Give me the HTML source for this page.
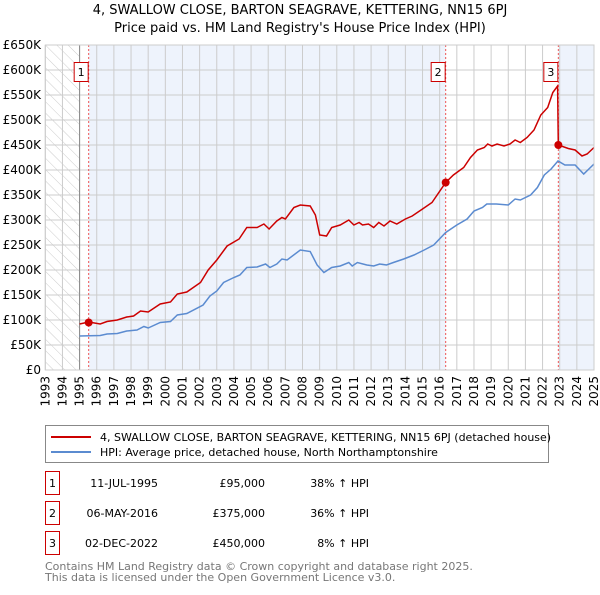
<!DOCTYPE html>
<html><head><meta charset="utf-8"><style>
body{margin:0;background:#fff;font-family:"Liberation Sans","DejaVu Sans",sans-serif;}
svg text{font-family:"DejaVu Sans","Liberation Sans",sans-serif;}
</style></head><body>
<svg id="c" width="600" height="590" viewBox="0 0 600 590">
<defs><pattern id="hatch" width="8" height="8" patternUnits="userSpaceOnUse" patternTransform="rotate(-45)"><line x1="0" y1="0" x2="0" y2="8" stroke="#ccc" stroke-width="1"/></pattern></defs>
<text x="300" y="14" text-anchor="middle" font-size="13" fill="#000">4, SWALLOW CLOSE, BARTON SEAGRAVE, KETTERING, NN15 6PJ</text>
<text x="300" y="32" text-anchor="middle" font-size="13" fill="#000">Price paid vs. HM Land Registry's House Price Index (HPI)</text>
<g id="plot"></g>
<g>
<rect x="45.5" y="425.5" width="503" height="37" fill="#fff" stroke="#888"/>
<line x1="51" y1="437" x2="91" y2="437" stroke="#cc0000" stroke-width="2"/>
<text x="100" y="441" font-size="11">4, SWALLOW CLOSE, BARTON SEAGRAVE, KETTERING, NN15 6PJ (detached house)</text>
<line x1="51" y1="452" x2="91" y2="452" stroke="#5b8bd0" stroke-width="2"/>
<text x="100" y="456" font-size="11">HPI: Average price, detached house, North Northamptonshire</text>
</g>
<g id="tbl" font-size="11"></g>
<text x="45" y="570" font-size="11" fill="#777">Contains HM Land Registry data © Crown copyright and database right 2025.</text>
<text x="45" y="581" font-size="11" fill="#777">This data is licensed under the Open Government Licence v3.0.</text>
</svg>
<script>
const yTicks=[0,50000,100000,150000,200000,250000,300000,350000,400000,450000,500000,550000,600000,650000];
const yTickLabels=["£0","£50K","£100K","£150K","£200K","£250K","£300K","£350K","£400K","£450K","£500K","£550K","£600K","£650K"];
const xYears=[1993,1994,1995,1996,1997,1998,1999,2000,2001,2002,2003,2004,2005,2006,2007,2008,2009,2010,2011,2012,2013,2014,2015,2016,2017,2018,2019,2020,2021,2022,2023,2024,2025];
const hpiDates=[1995.0,1996.2,1996.6,1997.2,1997.75,1998.35,1998.75,1999.0,1999.7,2000.3,2000.7,2001.25,2002.2,2002.6,2003.0,2003.4,2004.0,2004.35,2004.75,2005.35,2005.85,2006.1,2006.5,2006.8,2007.1,2007.87,2008.45,2008.85,2009.25,2009.7,2010.2,2010.7,2010.9,2011.2,2011.75,2012.15,2012.5,2012.9,2013.3,2013.9,2014.5,2015.1,2015.65,2016.35,2017.0,2017.6,2018.0,2018.5,2018.75,2019.3,2020.0,2020.4,2020.7,2021.3,2021.7,2022.1,2022.5,2022.9,2023.3,2023.9,2024.4,2025.0];
const hpiValues=[68000,69000,72000,73000,78000,80000,87000,84000,95000,97000,110000,113000,130000,148000,158000,175000,185000,190000,205000,206000,212000,205000,212000,222000,220000,240000,237000,210000,195000,205000,208000,215000,208000,215000,210000,208000,212000,210000,215000,222000,230000,240000,250000,275000,290000,302000,318000,325000,332000,332000,330000,342000,340000,350000,365000,390000,402000,418000,410000,410000,392000,412000];
const priceDates=[1995.0,1995.53,1996.2,1996.6,1997.2,1997.75,1998.15,1998.55,1999.0,1999.7,2000.3,2000.7,2001.25,2002.05,2002.5,2003.0,2003.6,2004.3,2004.75,2005.35,2005.75,2006.05,2006.5,2006.8,2007.0,2007.5,2007.87,2008.45,2008.75,2009.0,2009.4,2009.7,2010.2,2010.7,2011.0,2011.3,2011.5,2011.85,2012.15,2012.45,2012.75,2013.1,2013.5,2014.0,2014.4,2015.0,2015.55,2016.35,2016.8,2017.4,2017.8,2018.2,2018.6,2018.8,2019.05,2019.35,2019.75,2020.1,2020.4,2020.7,2021.1,2021.5,2021.9,2022.3,2022.6,2022.88,2022.92,2023.5,2023.9,2024.3,2024.6,2025.0];
const priceValues=[92000,96000,92000,97000,100000,106000,108000,118000,116000,132000,136000,152000,156000,175000,200000,220000,248000,262000,285000,285000,292000,282000,298000,305000,302000,325000,330000,328000,310000,270000,268000,285000,290000,300000,290000,295000,290000,292000,285000,295000,288000,298000,292000,302000,308000,322000,335000,375000,390000,405000,425000,440000,445000,452000,448000,452000,448000,452000,460000,455000,465000,480000,510000,525000,555000,568000,450000,443000,440000,428000,432000,445000];
const saleDates=[1995.53,2016.35,2022.92];
const saleValues=[95000,375000,450000];
const saleLabels=["1","2","3"];
const saleDateText=["11-JUL-1995","06-MAY-2016","02-DEC-2022"];
const salePriceText=["£95,000","£375,000","£450,000"];
const salePctText=["38% ↑ HPI","36% ↑ HPI","8% ↑ HPI"];

const NS="http://www.w3.org/2000/svg";
const X0=45.3,X1=594,Y0=370,Y1=45,xmin=1993,xmax=2025,ymax=650000;
const xs=d=>X0+(d-xmin)/(xmax-xmin)*(X1-X0);
const ys=v=>Y0-v/ymax*(Y0-Y1);
const g=document.getElementById('plot');
function mk(tag,attrs,parent){const e=document.createElementNS(NS,tag);for(const k in attrs)e.setAttribute(k,attrs[k]);(parent||g).appendChild(e);return e;}
let e;
e=mk('rect',{x:X0,y:Y1,width:X1-X0,height:Y0-Y1,fill:'#fff'});


e=mk('rect',{x:X0,y:Y1,width:xs(1995)-X0,height:Y0-Y1,fill:'url(#hatch)'});


e=mk('rect',{x:xs(saleDates[0]),y:Y1,width:xs(saleDates[1])-xs(saleDates[0]),height:Y0-Y1,fill:'#eef3fc'});


e=mk('rect',{x:xs(saleDates[2]),y:Y1,width:X1-xs(saleDates[2]),height:Y0-Y1,fill:'#eef3fc'});


xYears.forEach(yr=>{
 e=mk('line',{x1:xs(yr),x2:xs(yr),y1:Y1,y2:Y0,stroke:'#ccc','stroke-width':1});
 
 
 const tg=mk('g',{transform:'translate('+(xs(yr)+4).toFixed(1)+','+(Y0+6)+') rotate(-90)'});
 e=mk('text',{x:0,y:0,'font-size':12,'text-anchor':'end'},tg);
 e.textContent=yr;
 
 
});
yTicks.forEach((v,i)=>{
 e=mk('line',{x1:X0,x2:X1,y1:ys(v),y2:ys(v),stroke:'#ccc','stroke-width':1});
 
 
 e=mk('text',{x:41,y:ys(v)+4,'font-size':12,'text-anchor':'end'});
 e.textContent=yTickLabels[i];
 
 
});
e=mk('line',{x1:xs(1995),x2:xs(1995),y1:Y1,y2:Y0,stroke:'#888','stroke-width':1});


saleDates.forEach((d,i)=>{
 e=mk('line',{x1:xs(d),x2:xs(d),y1:Y1,y2:Y0,stroke:'#e55','stroke-width':1,'stroke-dasharray':'2,2'});
 
 
});
const pts=(D,V)=>D.map((d,i)=>xs(d).toFixed(1)+','+ys(V[i]).toFixed(1)).join(' ');
e=mk('polyline',{points:pts(hpiDates,hpiValues),fill:'none',stroke:'#5b8bd0','stroke-width':1.5});


e=mk('polyline',{points:pts(priceDates,priceValues),fill:'none',stroke:'#cc0000','stroke-width':1.5});


saleDates.forEach((d,i)=>{
 e=mk('circle',{cx:xs(d),cy:ys(saleValues[i]),r:4,fill:'#cc0000'});
 
 
 e=mk('rect',{x:xs(d)-14.5,y:62.5,width:14,height:19,fill:'#fff',stroke:'#cc0000'});
 
 
 e=mk('text',{x:xs(d)-7.5,y:76,'font-size':11,'text-anchor':'middle'});
 e.textContent=saleLabels[i];
 
 
});
e=mk('rect',{x:X0,y:Y1,width:X1-X0,height:Y0-Y1,fill:'none',stroke:'#ccc'});


const t=document.getElementById('tbl');
saleLabels.forEach((l,i)=>{
 const cy=483+i*30;
 e=mk('rect',{x:45.5,y:cy-11.5,width:14,height:23,fill:'#fff',stroke:'#cc0000'},t);
 
 
 e=mk('text',{x:52.5,y:cy+4,'text-anchor':'middle'},t);e.textContent=l;
 
 
 e=mk('text',{x:158,y:cy+4,'text-anchor':'end'},t);e.textContent=saleDateText[i];
 
 
 e=mk('text',{x:265,y:cy+4,'text-anchor':'end'},t);e.textContent=salePriceText[i];
 
 
 e=mk('text',{x:369,y:cy+4,'text-anchor':'end'},t);e.textContent=salePctText[i];
 
 
});
</script>
</body></html>
